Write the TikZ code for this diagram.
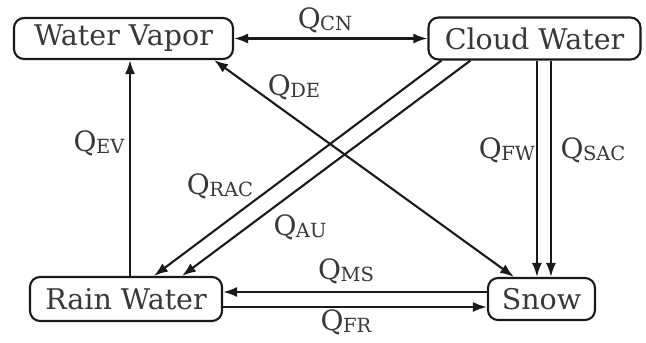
\documentclass[tikz,border=0pt]{standalone}
\usepackage{fontspec}
\setmainfont{DejaVu Serif}
\usetikzlibrary{arrows.meta}
\definecolor{ink}{HTML}{1A1A1A}
\definecolor{txt}{HTML}{383838}
\newcommand{\qlabel}[1]{Q\kern-0.5pt\raisebox{-2pt}{\fontsize{19.5}{19.5}\selectfont #1}}
\begin{document}
\begin{tikzpicture}[x=1pt,y=-1pt,
  box/.style={draw=ink, line width=2.1pt, rounded corners=10pt, text=txt,
    font=\fontsize{28.5}{28.5}\selectfont, inner sep=0pt, anchor=center},
  flow/.style={draw=ink, line width=2.1pt, -{Latex[length=14pt,width=10pt]}},
  flowtwo/.style={draw=ink, line width=2.1pt, {Latex[length=14pt,width=10pt]}-{Latex[length=14pt,width=10pt]}},
  lab/.style={text=txt, font=\fontsize{28}{28}\selectfont, inner sep=0pt}]
\useasboundingbox (0,0) rectangle (646,343);
\fill[white] (0,0) rectangle (646,343);
% boxes
\node[box, minimum width=219pt, minimum height=41pt] (wv) at (123.5,38.5) {Water Vapor};
\node[box, minimum width=212pt, minimum height=42pt] (cw) at (534.5,38.5) {Cloud Water};
\node[box, minimum width=192pt, minimum height=44pt] (rw) at (126,299) {Rain Water};
\node[box, minimum width=107pt, minimum height=42pt] (sn) at (541.5,299) {Snow};
% connectors
\draw[flowtwo] (wv.east) -- (cw.west);
\draw[flow] ([xshift=4pt]rw.north) -- ([xshift=4pt]rw.north |- wv.south);
\draw[flowtwo] ([xshift=-20pt]wv.south east) -- ([xshift=27pt]sn.north west);
\draw[flow] ([xshift=14pt]cw.south west) -- ([xshift=125pt]rw.north west);
\draw[flow] ([xshift=43pt]cw.south west) -- ([xshift=153pt]rw.north west);
\draw[flow] ([xshift=50pt]sn.north west |- cw.south) -- ([xshift=50pt]sn.north west);
\draw[flow] ([xshift=64pt]sn.north west |- cw.south) -- ([xshift=64pt]sn.north west);
\draw[flow] ([yshift=7pt]sn.west) -- ([yshift=7pt]sn.west -| rw.east);
\draw[flow] ([yshift=-8pt]rw.east) -- ([yshift=-8pt]rw.east -| sn.west);
% labels
\node[lab] (lcn) at (325,20) {\qlabel{CN}};
\node[lab] (lde) at (294,87) {\qlabel{DE}};
\node[lab] (lev) at (99,143) {\qlabel{EV}};
\node[lab] (lrac) at (220,186) {\qlabel{RAC}};
\node[lab] (lau) at (300,227) {\qlabel{AU}};
\node[lab] (lfw) at (507,150) {\qlabel{FW}};
\node[lab] (lsac) at (593,150) {\qlabel{SAC}};
\node[lab] (lms) at (346,271) {\qlabel{MS}};
\node[lab] (lfr) at (346,322) {\qlabel{FR}};
\end{tikzpicture}
\end{document}
